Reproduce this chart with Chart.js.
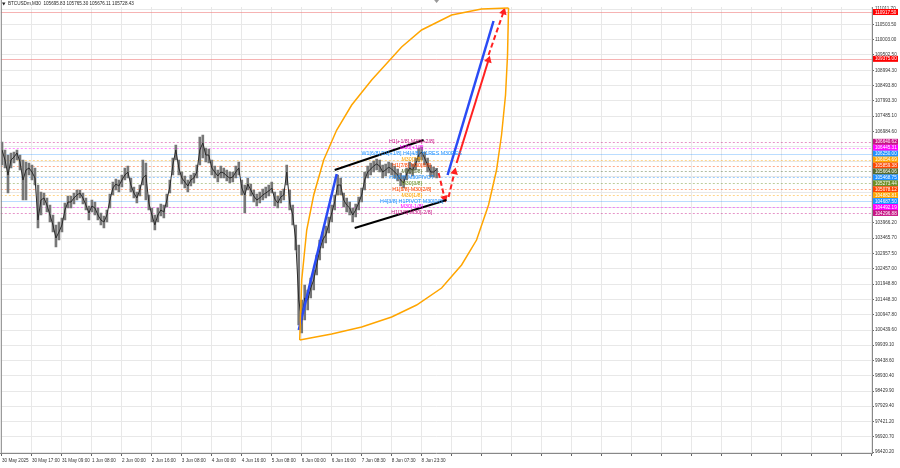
<!DOCTYPE html>
<html>
<head>
<meta charset="utf-8">
<script src="https://cdn.jsdelivr.net/npm/chart.js@4.4.1/dist/chart.umd.min.js"></script>
<style>
  html, body { margin: 0; padding: 0; background: #fff; }
  #wrap { width: 900px; height: 468px; }
</style>
</head>
<body>
<div id="wrap"><canvas id="chart"></canvas></div>
<script>
// BTCUSDm M30 candles, sampled every third bar (bar index -> x)
const closes = [106371,106042,105547,106042,106140,106272,105976,105382,105712,105778,105646,105448,104064,104723,104789,104558,104229,103900,103471,103669,
  103900,104394,104657,104657,104789,104888,104954,104789,104558,104295,104525,104460,104229,104064,103998,104229,104723,105119,105250,105185,
  105382,105547,105646,105217,104954,104789,105053,105448,105547,104624,104229,103900,104229,104394,104328,104723,105152,105877,106371,105778,
  105448,105316,105185,105382,105448,105646,106371,106602,106206,106206,105778,105646,105514,105646,105613,105514,105448,105481,105646,105778,
  105119,104888,105250,105053,104855,104723,104789,104888,104954,105020,105119,104756,104624,104822,104888,105646,104624,104229,103405,101429,
  100770,101495,101429,101824,102088,102582,103076,103405,103570,103900,104295,104657,105217,105217,104723,104558,104460,104229,104394,104624,
  104888,105382,105646,105745,105844,105910,105844,105646,105712,105811,105745,105646,105547,105382,105283,105580,105778,105712,105910,106206,
  106305,106107,105877,105646,105646,105728];
const highs = [106635,106371,106206,106272,106305,106371,106206,106042,105976,105943,105877,105778,105217,104987,104954,104789,104558,104229,103900,103998,
  104130,104624,104855,104855,104954,105053,105053,104954,104789,104525,104723,104657,104460,104295,104196,104394,104921,105316,105415,105382,
  105547,105778,105844,105448,105152,104987,105217,106042,105943,104888,104460,104229,104460,104591,104558,104921,105382,106107,106535,106042,
  105646,105514,105382,105547,105613,105877,106799,106865,106437,106404,106042,105844,105712,105844,105778,105712,105646,105646,105844,105976,
  105382,105217,105448,105250,105053,104921,104987,105086,105152,105217,105316,104987,104855,105020,105086,105877,105053,104558,103900,103241,
  101429,101923,101758,102154,102417,102911,103405,103669,103867,104163,104558,104888,105547,105448,104954,104789,104657,104460,104591,104822,
  105119,105646,105844,105943,106009,106074,106042,105877,105910,105976,105943,105844,105745,105613,105514,105778,105976,105910,106107,106437,
  106470,106305,106107,105877,105811,105765];
const lows = [105877,105778,104954,105778,105943,106042,105712,104723,104723,105547,105382,105217,103801,104229,104558,104328,103998,103669,103175,103405,
  103669,104064,104460,104460,104591,104723,104789,104591,104394,104064,104328,104229,104064,103900,103801,103998,104460,104888,105053,104987,
  105152,105382,105448,104987,104789,104624,104855,105217,104723,104394,103998,103735,103998,104196,104130,104493,104954,105547,106042,105547,
  105250,105119,104987,105185,105283,105448,105877,106107,105976,105943,105547,105448,105316,105448,105448,105349,105283,105316,105448,105547,
  104888,104295,105053,104855,104657,104525,104624,104723,104789,104855,104954,104525,104460,104624,104723,105217,104394,103900,103076,100605,
  100341,100770,101099,101495,101758,102253,102747,103142,103306,103636,103998,104394,104888,104888,104493,104328,104229,103998,104163,104394,
  104657,105053,105448,105547,105646,105712,105646,105448,105514,105613,105547,105448,105349,105185,105119,105382,105580,105514,105712,105976,
  106042,105877,105646,105481,105481,105448];

// time axis: one label every 10 sampled bars
const xLabels = ['30 May 2025','30 May 17:00','31 May 09:00','1 Jun 08:00','2 Jun 00:00','2 Jun 16:00','3 Jun 08:00','4 Jun 00:00',
  '4 Jun 16:00','5 Jun 08:00','6 Jun 00:00','6 Jun 16:00','7 Jun 08:30','8 Jun 07:30','8 Jun 23:30'];
const xTickIdx = [0,10,20,30,40,50,60,70,80,90,100,110,120,130,140,150,160,170,180,190,200,210,220,230,240,250,260,270,280,290];

const yTicks = [96420.20,96920.70,97421.20,97929.40,98429.90,98930.40,99438.60,99939.10,100439.60,100947.80,101448.30,101948.80,
  102457.00,102957.50,103465.70,103966.20,104474.40,104974.90,105483.10,105983.60,106484.10,106984.60,107485.10,107993.30,
  108493.80,108994.30,109502.50,110003.00,110503.50,111011.70];

// Murrey math levels
const levels = [106640.62,106445.31,106250.00,106054.69,105859.38,105664.06,105468.75,105273.44,105078.12,104882.81,104687.50,104492.19,104296.88];
const levelNames = ['H1[+1/8] M30[+2/8]','M30[+1/8]','W1[6/8] D1[+1/8] H4[4/8] H1RES M30RES','M30[7/8]','H1[7/8] M30[6/8]','M30[5/8]',
  'H1[6/8] M30PIVOT','M30[3/8]','H1[5/8] M30[2/8]','M30[1/8]','H4[3/8] H1PIVOT M30[0/8]','M30[-1/8]','H1[3/8] M30[-2/8]'];
const levelColors = ['#C71585','#FF00FF','#1E90FF','#FFA500','#FF4500','#556B2F','#1E90FF','#6B8E23','#FF4500','#FFA500','#1E90FF','#FF00FF','#C71585'];
const redLevels = [110917.50, 109375.00];
const levelTextIdx = 136.7;

// hand drawn objects (bar index, price)
const arcOuter = [[99.33,100111],[100,102088],[101.67,103735],[104,104888],[107.33,106042],[111.67,107030],[116.67,107854],
  [123.33,108678],[133.33,109765],[140,110325],[150,110819],[160,111017],[169,111050]];
const arcInner = [[99.33,100111],[110,100308],[120,100539],[130,100869],[138.33,101264],[146.67,101824],[153.33,102582],
  [158.33,103405],[162.33,104558],[165,105712],[166.67,106865],[168,108183],[168.67,109501],[169,111050]];
const blueA = [[99,100440],[111.67,105580]];
const blueB = [[148.67,105547],[164,110622]];
const redDown = [[145.67,105613],[147.67,104789]];
const redUp = [[149,104822],[151,105646]];
const redSolid = [[151.67,105943],[162.33,109337]];
const redTop = [[162.33,109501],[167.33,110918]];
const chanTop = [[111,105712],[140.67,106701]];
const chanBottom = [[117.67,103801],[148.33,104723]];

const pts = a => a.map(p => ({x: p[0], y: p[1]}));
const FONT = 'Liberation Sans';

function seg(data, color, width, dash, arrowRot) {
  return {
    type: 'line', data: pts(data), borderColor: color, borderWidth: width, borderDash: dash || [],
    pointRadius: arrowRot === undefined ? 0 : [0, 4.5], pointStyle: 'triangle',
    pointRotation: [0, arrowRot || 0], pointBackgroundColor: color, pointBorderWidth: 0,
    tension: 0, order: 1
  };
}

const levelPlugin = {
  id: 'levels',
  beforeDatasetsDraw(chart) {
    const {ctx, chartArea: a, scales: {y}} = chart;
    ctx.save();
    levels.forEach((v, i) => {
      const py = Math.round(y.getPixelForValue(v)) + 0.5;
      const solid = i === 2 || i === 10;
      ctx.strokeStyle = levelColors[i];
      ctx.globalAlpha = solid ? 0.3 : 0.45;
      ctx.setLineDash(solid ? [] : [2, 2]);
      ctx.lineWidth = 1;
      ctx.beginPath(); ctx.moveTo(a.left, py); ctx.lineTo(a.right, py); ctx.stroke();
    });
    ctx.globalAlpha = 0.6;
    ctx.setLineDash([]);
    ctx.strokeStyle = '#f08080';
    redLevels.forEach(v => {
      const py = Math.round(y.getPixelForValue(v)) + 0.5;
      ctx.beginPath(); ctx.moveTo(a.left, py); ctx.lineTo(a.right, py); ctx.stroke();
    });
    ctx.restore();
  },
  afterDatasetsDraw(chart) {
    const {ctx, scales: {x, y}} = chart;
    ctx.save();
    ctx.font = '5.3px "' + FONT + '"';
    ctx.textAlign = 'center';
    ctx.textBaseline = 'middle';
    const cx = x.getPixelForValue(levelTextIdx);
    levels.forEach((v, i) => {
      ctx.fillStyle = levelColors[i];
      ctx.fillText(levelNames[i], cx, y.getPixelForValue(v));
    });
    ctx.restore();
  },
  afterDraw(chart) {
    const {ctx, chartArea: a, scales: {y}} = chart;
    ctx.save();
    ctx.font = '4.6px "' + FONT + '"';
    ctx.textBaseline = 'middle';
    ctx.textAlign = 'left';
    const box = (v, color) => {
      const py = y.getPixelForValue(v);
      ctx.fillStyle = color;
      ctx.fillRect(a.right + 1, py - 3, 25, 6);
      ctx.fillStyle = '#fff';
      ctx.fillText(v.toFixed(2), a.right + 3, py + 0.3);
    };
    levels.forEach((v, i) => box(v, levelColors[i]));
    redLevels.forEach(v => box(v, '#FF0000'));
    // frame on the left and the chart shift marker
    ctx.strokeStyle = '#888';
    ctx.beginPath(); ctx.moveTo(a.left + 0.5, 0); ctx.lineTo(a.left + 0.5, a.bottom); ctx.stroke();
    ctx.fillStyle = '#999';
    const sx = chart.scales.x.getPixelForValue(closes.length - 1);
    ctx.beginPath(); ctx.moveTo(sx - 2.5, 0); ctx.lineTo(sx + 2.5, 0); ctx.lineTo(sx, 3); ctx.closePath(); ctx.fill();
    // header
    ctx.fillStyle = '#222';
    ctx.fillText('BTCUSDm,M30  105695.83 105765.30 105676.11 105728.43', 8, 4);
    ctx.beginPath(); ctx.moveTo(2, 2.5); ctx.lineTo(5.5, 2.5); ctx.lineTo(3.75, 5.5); ctx.closePath(); ctx.fill();
    ctx.restore();
  }
};

new Chart(document.getElementById('chart'), {
  type: 'line',
  data: {
    datasets: [
      seg(arcOuter, '#FFA500', 1.5),
      seg(arcInner, '#FFA500', 1.5),
      seg(blueA, '#2A4BF5', 2.5),
      seg(blueB, '#2A4BF5', 2.5),
      seg(chanTop, '#000', 2),
      seg(chanBottom, '#000', 2),
      seg(redDown, '#FF2020', 2, [5, 3], 166),
      seg(redUp, '#FF2020', 2, [5, 3], 13),
      seg(redSolid, '#FF2020', 2, [], 17),
      seg(redTop, '#FF2020', 2, [5, 3], 18),
      {
        type: 'line', data: closes.map((c, i) => ({x: i, y: c})), borderColor: '#2a2a2a', borderWidth: 1,
        pointRadius: 0, tension: 0, order: 5
      },
      {
        type: 'bar', data: highs.map((h, i) => ({x: i, y: [lows[i], h]})), backgroundColor: '#777',
        barThickness: 2, order: 6
      }
    ]
  },
  options: {
    responsive: true, maintainAspectRatio: false, animation: false,
    layout: {autoPadding: false, padding: {top: 7, left: 0, right: 0, bottom: 0}},
    plugins: {legend: {display: false}, tooltip: {enabled: false}},
    scales: {
      x: {
        type: 'linear', min: -0.4, max: 290.27, offset: false,
        grid: {color: '#e8e8e8', tickLength: 3, tickColor: '#666', offset: false},
        border: {color: '#888'},
        ticks: {
          font: {family: FONT, size: 4.6}, color: '#333', align: 'start', padding: 2,
          maxRotation: 0, autoSkip: false, callback: (v, i) => xLabels[i] || ''
        },
        afterBuildTicks: s => { s.ticks = xTickIdx.map(v => ({value: v})); },
        afterFit: s => { s.height = 15; }
      },
      y: {
        position: 'right', min: 96387.25, max: 111082.95,
        grid: {color: '#e8e8e8', tickLength: 2, tickColor: '#666'},
        border: {color: '#888'},
        ticks: {font: {family: FONT, size: 4.6}, color: '#333', padding: 1, callback: v => v.toFixed(2)},
        afterBuildTicks: s => { s.ticks = yTicks.map(v => ({value: v})); },
        afterFit: s => { s.width = 28; }
      }
    }
  },
  plugins: [levelPlugin]
});
</script>
</body>
</html>
